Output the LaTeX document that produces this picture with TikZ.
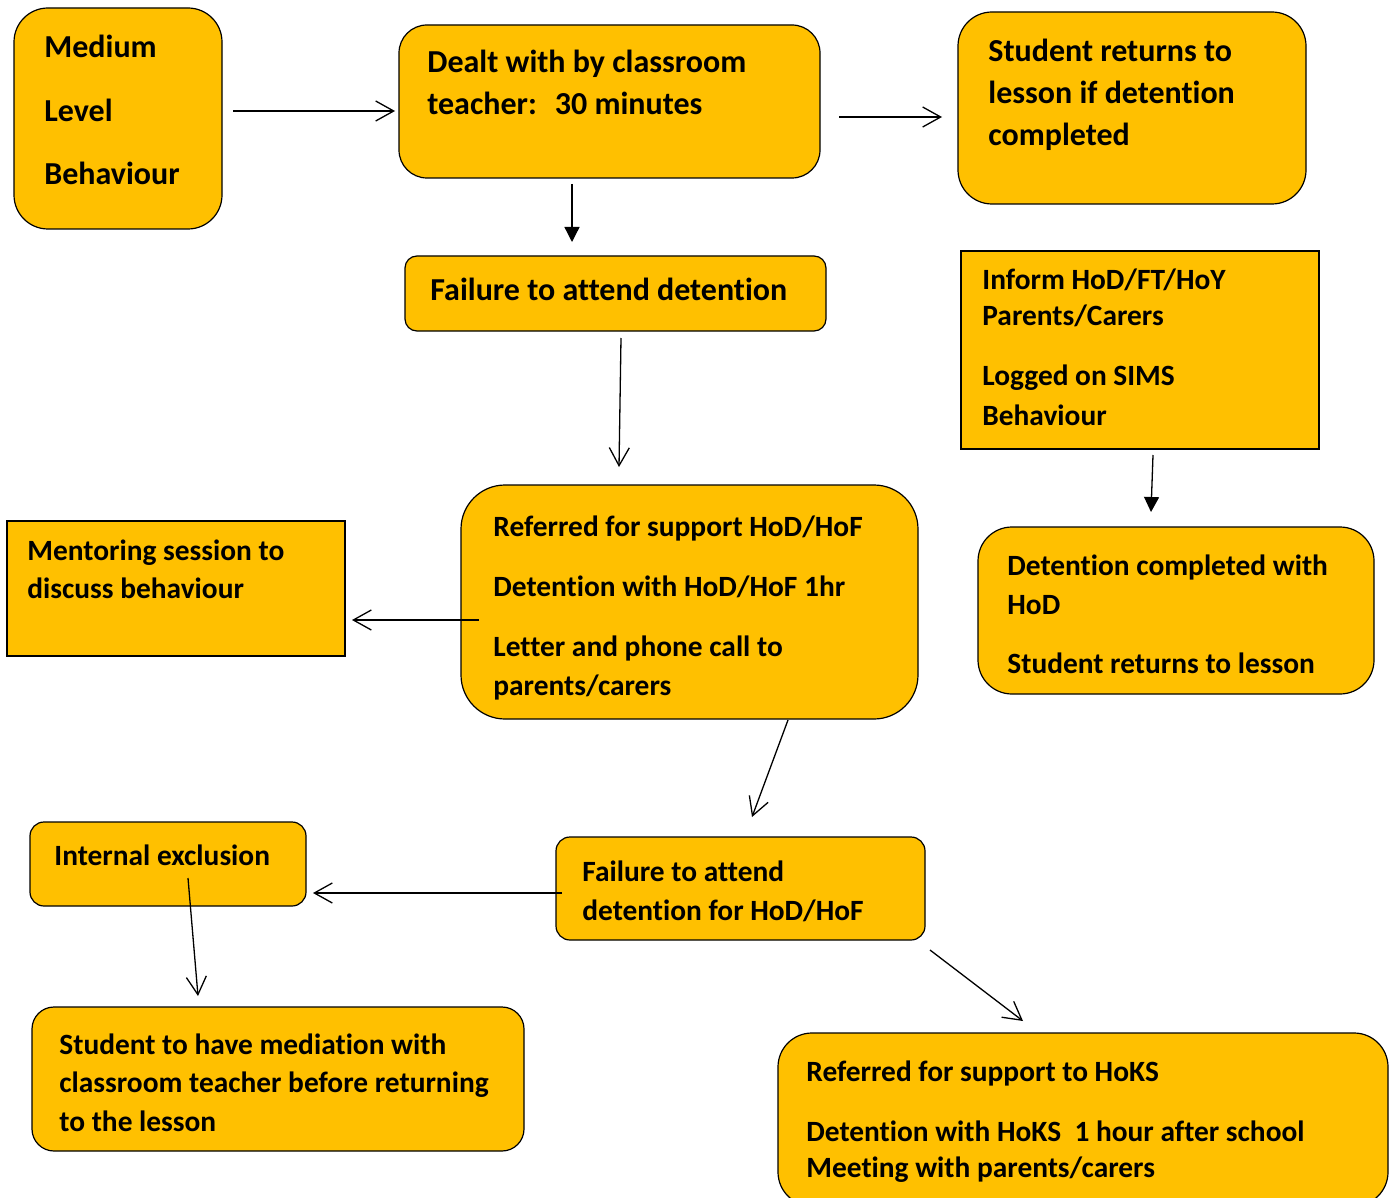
\documentclass[tikz,border=0pt]{standalone}
\usepackage{fontspec}
\setmainfont[Ligatures=NoCommon]{Carlito}
\usetikzlibrary{arrows.meta,fit}
\definecolor{gold}{HTML}{FFC000}
\begin{document}
\begin{tikzpicture}[x=0.5pt,y=-0.5pt,
  box/.style={draw=black, line width=0.6pt, fill=gold, inner sep=0pt, outer sep=0pt},
  rbox/.style={box, rounded corners=#1},
  txt/.style={anchor=base west, inner sep=0pt, font=\fontsize{16}{19}\selectfont\bfseries},
  stxt/.style={anchor=base west, inner sep=0pt, font=\fontsize{14.7}{18}\selectfont\bfseries},
  openarrow/.style={draw=black, line width=0.65pt, -{Straight Barb[length=9pt,width=10pt]}},
  fillarrow/.style={draw=black, line width=0.65pt, -{Triangle[length=7.5pt,width=7.5pt]}}]
\useasboundingbox (0,0) rectangle (1392,1198);

% boxes
\node[rbox=17pt, fit={(14,8) (222,229)}] (medium) {};
\node[rbox=14pt, fit={(399,25) (820,178)}] (dealt) {};
\node[rbox=17pt, fit={(958,12) (1306,204)}] (ret) {};
\node[rbox=6pt, fit={(405,256) (826,331)}] (fail1) {};
\node[box, fit={(961,251) (1319,449)}] (inform) {};
\node[box, fit={(7,521) (345,656)}] (mentor) {};
\node[rbox=22pt, fit={(461,485) (918,719)}] (ref) {};
\node[rbox=17pt, fit={(978,527) (1374,694)}] (detc) {};
\node[rbox=7pt, fit={(30,822) (306,906)}] (intex) {};
\node[rbox=7pt, fit={(556,837) (925,940)}] (fail2) {};
\node[rbox=11pt, fit={(32,1007) (524,1151)}] (med) {};
\node[rbox=17pt, fit={(778,1033) (1388,1206)}] (hoks) {};

% texts
\node[txt] (m1) at (44,58) {Medium};
\node[txt] (m2) at (44,122) {Level};
\node[txt] (m3) at (44,185) {Behaviour};

\node[txt] (d1) at (427,73) {Dealt with by classroom};
\node[txt] (d2) at (427,115) {teacher:\hspace{9pt}30 minutes};

\node[txt] (r1) at (988,62) {Student returns to};
\node[txt] (r2) at (988,104) {lesson if detention};
\node[txt] (r3) at (988,146) {completed};

\node[txt] (f1) at (430,300) {Failure to attend detention};

\node[stxt] (i1) at (982,290) {Inform HoD/FT/HoY};
\node[stxt] (i2) at (982,326) {Parents/Carers};
\node[stxt] (i3) at (982,386) {Logged on SIMS};
\node[stxt] (i4) at (982,425) {Behaviour};

\node[stxt] (mt1) at (27,560) {Mentoring session to};
\node[stxt] (mt2) at (27,598) {discuss behaviour};

\node[stxt] (rf1) at (493,536) {Referred for support HoD/HoF};
\node[stxt] (rf2) at (493,596) {Detention with HoD/HoF 1hr};
\node[stxt] (rf3) at (493,656) {Letter and phone call to};
\node[stxt] (rf4) at (493,695) {parents/carers};

\node[stxt] (dc1) at (1007,575) {Detention completed with};
\node[stxt] (dc2) at (1007,614) {HoD};
\node[stxt] (dc3) at (1007,673) {Student returns to lesson};

\node[stxt] (ie1) at (54,865) {Internal exclusion};

\node[stxt] (f21) at (582,881) {Failure to attend};
\node[stxt] (f22) at (582,920) {detention for HoD/HoF};

\node[stxt] (md1) at (59,1054) {Student to have mediation with};
\node[stxt] (md2) at (59,1092) {classroom teacher before returning};
\node[stxt] (md3) at (59,1131) {to the lesson};

\node[stxt] (hk1) at (806,1081) {Referred for support to HoKS};
\node[stxt] (hk2) at (806,1141) {Detention with HoKS\ \ 1 hour after school};
\node[stxt] (hk3) at (806,1177) {Meeting with parents/carers};

% connectors
\draw[openarrow] ([shift={(11,-7.5)}]medium.east) -- ([shift={(-4,9.5)}]dealt.west);
\draw[fillarrow] ([shift={(-37.5,6)}]dealt.south) -- ([shift={(-43.5,-14)}]fail1.north);
\draw[openarrow] ([shift={(19,15.5)}]dealt.east) -- ([shift={(-16,9)}]ret.west);
\draw[openarrow] ([shift={(5.5,7)}]fail1.south) -- ([shift={(-70.5,-18)}]ref.north);
\draw[openarrow] ([shift={(18,18)}]ref.west) -- ([shift={(7,31.5)}]mentor.east);
\draw[fillarrow] ([shift={(13,6)}]inform.south) -- ([shift={(-25,-15)}]detc.north);
\draw[openarrow] ([shift={(98.5,1)}]ref.south) -- ([shift={(11.5,-20)}]fail2.north);
\draw[openarrow] ([shift={(6,4.5)}]fail2.west) -- ([shift={(7,29)}]intex.east);
\draw[openarrow] ([shift={(20,-28)}]intex.south) -- ([shift={(-80,-11)}]med.north);
\draw[openarrow] ([shift={(5,10)}]fail2.south east) -- ([shift={(-60,-12)}]hoks.north);
\end{tikzpicture}
\end{document}
